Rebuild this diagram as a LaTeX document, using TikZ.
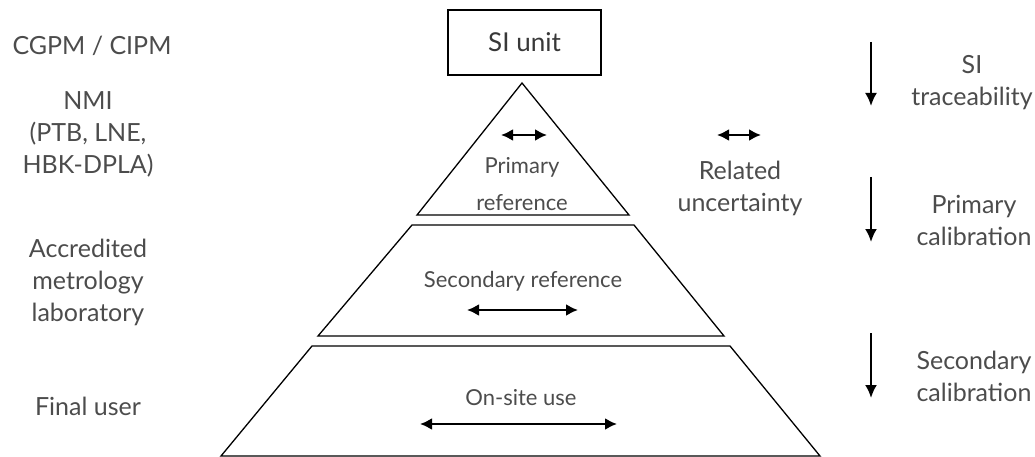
\documentclass[tikz,border=0pt]{standalone}
\usepackage{fontspec}
\setmainfont{Lato}
\usetikzlibrary{arrows.meta,positioning}

\begin{document}
\begin{tikzpicture}[
    x=1pt, y=-1pt,
    sidelabel/.style={align=center, inner sep=0pt, font=\fontsize{25}{32}\selectfont, text=black!70},
    layerlabel/.style={align=center, inner sep=0pt, font=\fontsize{22}{37}\selectfont, text=black!70},
    unitbox/.style={rectangle, draw, line width=1.3pt, minimum width=153pt, minimum height=65pt, font=\fontsize{26}{30}\selectfont, text=black!78},
    layer/.style={draw, line width=1.3pt, line join=miter},
    flow/.style={-{Latex[length=13pt,width=12pt]}, line width=2.2pt},
    spread/.style={{Latex[length=12pt,width=12pt]}-{Latex[length=12pt,width=12pt]}, line width=2.2pt}
]
    \useasboundingbox (0,0) rectangle (1035,457);

    % pyramid
    \node [unitbox] (si) at (524.5,42.5) {SI unit};
    \draw [layer] (417,215) -- (522,83) -- (629,215) -- cycle;
    \draw [layer] (412,225) -- (634,225) -- (724,336) -- (318,336) -- cycle;
    \draw [layer] (312,346) -- (730,346) -- (820,456) -- (221,456) -- cycle;

    \node [layerlabel] (prim) at (522,184) {Primary\\reference};
    \node [layerlabel] (sec) at (523,281) {Secondary reference};
    \node [layerlabel] (site) at (521,398) {On-site use};

    \coordinate (pa) at (501,135); \coordinate (pb) at (547,135);
    \coordinate (sa) at (467,310); \coordinate (sb) at (578,310);
    \coordinate (oa) at (420,424); \coordinate (ob) at (617,424);
    \draw [spread] (pa) -- (pb);
    \draw [spread] (sa) -- (sb);
    \draw [spread] (oa) -- (ob);

    % uncertainty key
    \coordinate (ua) at (717,135); \coordinate (ub) at (761,135);
    \draw [spread] (ua) -- (ub);
    \node [sidelabel] (unc) at (740,188) {Related\\uncertainty};

    % left: institutions
    \node [sidelabel] (cgpm) at (92,46) {CGPM / CIPM};
    \node [sidelabel] (nmi) at (88,134) {NMI\\(PTB, LNE,\\HBK-DPLA)};
    \node [sidelabel] (lab) at (88,282) {Accredited\\metrology\\laboratory};
    \node [sidelabel] (user) at (88,406) {Final user};

    % right: calibration chain
    \node [sidelabel] (trace) at (972,83) {SI\\traceability};
    \node [sidelabel] (pcal) at (974,220) {Primary\\calibration};
    \node [sidelabel] (scal) at (974,376) {Secondary\\calibration};
    \coordinate (t1) at (871,42);  \coordinate (t2) at (871,106);
    \coordinate (p1) at (871,177); \coordinate (p2) at (871,242);
    \coordinate (c1) at (871,333); \coordinate (c2) at (871,398);
    \draw [flow] (t1) -- (t2);
    \draw [flow] (p1) -- (p2);
    \draw [flow] (c1) -- (c2);
\end{tikzpicture}
\end{document}
